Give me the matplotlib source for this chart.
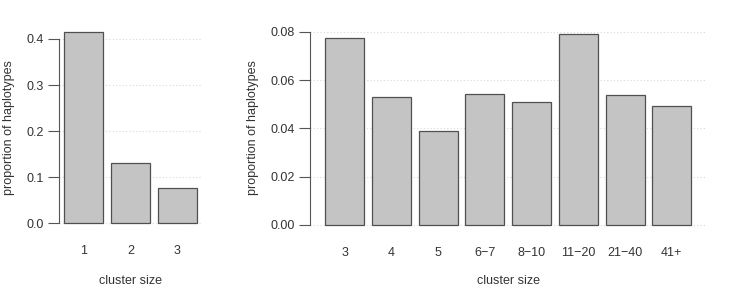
import matplotlib
matplotlib.use("Agg")
import matplotlib.pyplot as plt
import numpy as np

plt.rcParams['font.family'] = ['Liberation Sans', 'DejaVu Sans']

left_categories = ["1", "2", "3"]
left_values = [0.415, 0.130, 0.077]
left_yticks = [0.0, 0.1, 0.2, 0.3, 0.4]
left_yticklabels = ["0.0", "0.1", "0.2", "0.3", "0.4"]

right_categories = ["3", "4", "5", "6\u22127", "8\u221210", "11\u221220", "21\u221240", "41+"]
right_values = [0.0776, 0.0530, 0.0391, 0.0542, 0.0509, 0.0792, 0.0537, 0.0493]
right_yticks = [0.00, 0.02, 0.04, 0.06, 0.08]
right_yticklabels = ["0.00", "0.02", "0.04", "0.06", "0.08"]

W, H = 738, 303
fig = plt.figure(figsize=(W / 100, H / 100), dpi=100)

TEXT = "#333333"
AXC = "#555555"
FILL = "#c4c4c4"
EDGE = "#505050"
GRID = "#d9d9d9"
FS = 9.0


def make_panel(px0, px1, py_top, py_bot, cats, vals, yticks, yticklabels, ylab_x):
    ax = fig.add_axes([px0 / W, 1 - py_bot / H, (px1 - px0) / W, (py_bot - py_top) / H])
    n = len(cats)
    centers = 0.7 + 1.2 * np.arange(n)
    ymax = max(vals)
    lo = -0.01 * ymax
    rng = ymax - lo
    ax.set_ylim(lo - 0.04 * rng, ymax + 0.04 * rng)
    xl, xr = 0.2, 0.2 + 1.2 * n - 0.2
    ext = 0.04 * (xr - xl)
    ax.set_xlim(xl - ext, xr + ext)
    for t in yticks:
        ax.plot([xl - ext, xr + ext], [t, t], linestyle=(0, (1, 2)), color=GRID,
                linewidth=0.8, zorder=0)
    ax.bar(centers, vals, width=1.0, color=FILL, edgecolor=EDGE, linewidth=0.9, zorder=2)
    for s in ["top", "right", "bottom"]:
        ax.spines[s].set_visible(False)
    ax.spines["left"].set_bounds(yticks[0], yticks[-1])
    ax.spines["left"].set_color(AXC)
    ax.spines["left"].set_linewidth(0.8)
    ax.set_yticks(yticks)
    ax.set_yticklabels(yticklabels)
    ax.tick_params(axis="y", length=8, width=0.8, color=AXC, pad=3,
                   labelsize=FS, labelcolor=TEXT)
    ax.set_xticks(centers)
    ax.set_xticklabels(cats)
    ax.tick_params(axis="x", length=0, pad=9, labelsize=FS, labelcolor=TEXT)
    h = py_bot - py_top
    w = px1 - px0
    ax.set_xlabel("cluster size", fontsize=FS, color=TEXT, va="center")
    ax.xaxis.set_label_coords(0.5, -(281 - py_bot) / h)
    ax.set_ylabel("proportion of haplotypes", fontsize=FS, color=TEXT, va="center")
    ax.yaxis.set_label_coords((ylab_x - px0) / w, 0.5 + ((py_top + py_bot) / 2 - 128) / h)
    return ax


make_panel(59.0, 202.3, 24.3, 232.9, left_categories, left_values, left_yticks,
           left_yticklabels, 9)
make_panel(310.4, 705.9, 26.0, 234.5, right_categories, right_values, right_yticks,
           right_yticklabels, 253)

fig.savefig("out.png", dpi=100)
